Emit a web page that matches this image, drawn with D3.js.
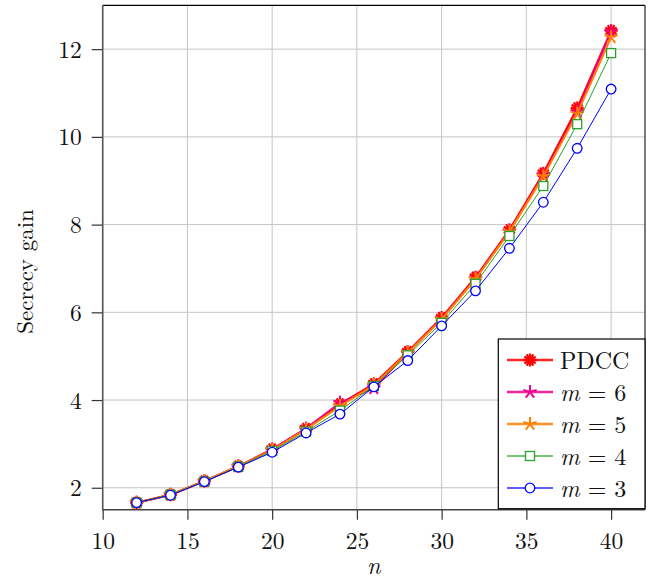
<!DOCTYPE html>
<html>
<head>
<meta charset="utf-8">
<script src="https://cdn.jsdelivr.net/npm/d3@7"></script>
<style>
  body { margin: 0; background: #fff; }
  svg text { font-family: "Latin Modern Roman", "Liberation Serif", "DejaVu Serif", serif; fill: #111; }
</style>
</head>
<body>
<svg id="chart" width="660" height="581"></svg>
<script>
// data
const nValues = [12, 14, 16, 18, 20, 22, 24, 26, 28, 30, 32, 34, 36, 38, 40];
const pdcc = [1.66, 1.84, 2.15, 2.49, 2.88, 3.35, 3.91, 4.37, 5.10, 5.88, 6.80, 7.88, 9.17, 10.66, 12.42];
const m6   = [1.66, 1.84, 2.15, 2.49, 2.87, 3.35, 3.94, 4.27, 5.08, 5.85, 6.77, 7.85, 9.12, 10.57, 12.40];
const m5   = [1.66, 1.84, 2.15, 2.49, 2.86, 3.33, 3.86, 4.34, 5.08, 5.84, 6.76, 7.84, 9.10, 10.53, 12.27];
const m4   = [1.66, 1.84, 2.14, 2.48, 2.84, 3.28, 3.76, 4.32, 5.02, 5.76, 6.65, 7.74, 8.88, 10.29, 11.91];
const m3   = [1.66, 1.83, 2.14, 2.47, 2.81, 3.25, 3.68, 4.30, 4.90, 5.69, 6.49, 7.46, 8.51, 9.74, 11.09];
const xTicks = [10, 15, 20, 25, 30, 35, 40];
const yTicks = [2, 4, 6, 8, 10, 12];
const legendLabels = ["PDCC", "6", "5", "4", "3"];

const series = [
  { name: "PDCC", values: pdcc, color: "#ff0000", width: 2, marker: "asterisk" },
  { name: "m6",   values: m6,   color: "#f0008c", width: 2, marker: "star" },
  { name: "m5",   values: m5,   color: "#ff8000", width: 2, marker: "star" },
  { name: "m4",   values: m4,   color: "#2ca02c", width: 1, marker: "square" },
  { name: "m3",   values: m3,   color: "#0000ff", width: 1, marker: "circle" }
];

const svg = d3.select("#chart");
const plotLeft = 102.7, plotRight = 645, plotTop = 5.3, plotBottom = 509.7;

const x = d3.scaleLinear().domain([10, 42]).range([plotLeft, plotRight]);
const y = d3.scaleLinear().domain([1.5, 13]).range([plotBottom, plotTop]);

// grid
svg.append("g").selectAll("line").data(xTicks).join("line")
  .attr("x1", d => x(d)).attr("x2", d => x(d))
  .attr("y1", plotTop).attr("y2", plotBottom)
  .attr("stroke", "#c4c4c4").attr("stroke-width", 1);
svg.append("g").selectAll("line").data(yTicks).join("line")
  .attr("x1", plotLeft).attr("x2", plotRight)
  .attr("y1", d => y(d)).attr("y2", d => y(d))
  .attr("stroke", "#c4c4c4").attr("stroke-width", 1);

// axes, ticks outside
const xAxis = svg.append("g")
  .attr("transform", `translate(0,${plotBottom})`)
  .call(d3.axisBottom(x).tickValues(xTicks).tickSize(10).tickPadding(13).tickSizeOuter(0));
const yAxis = svg.append("g")
  .attr("transform", `translate(${plotLeft},0)`)
  .call(d3.axisLeft(y).tickValues(yTicks).tickSize(11).tickPadding(10).tickSizeOuter(0));
[xAxis, yAxis].forEach(a => {
  a.select(".domain").remove();
  a.selectAll("line").attr("stroke", "#333").attr("stroke-width", 1.2);
  a.selectAll("text").attr("font-size", 23.5).attr("fill", "#111")
    .attr("font-family", "'Latin Modern Roman','Liberation Serif',serif");
});
yAxis.selectAll("text").attr("dy", "0.34em");

// frame
svg.append("line").attr("x1", plotLeft).attr("x2", plotRight).attr("y1", plotTop).attr("y2", plotTop)
  .attr("stroke", "#000").attr("stroke-width", 1.2);
svg.append("line").attr("x1", plotRight).attr("x2", plotRight).attr("y1", plotTop).attr("y2", plotBottom)
  .attr("stroke", "#222").attr("stroke-width", 1.2);
svg.append("line").attr("x1", plotLeft).attr("x2", plotLeft).attr("y1", plotTop).attr("y2", plotBottom + 0.6)
  .attr("stroke", "#555").attr("stroke-width", 1.6);
svg.append("line").attr("x1", plotLeft).attr("x2", plotRight).attr("y1", plotBottom).attr("y2", plotBottom)
  .attr("stroke", "#444").attr("stroke-width", 1.6);

// axis labels
svg.append("text").attr("x", x(26)).attr("y", 574)
  .attr("text-anchor", "middle").attr("font-size", 24).attr("font-style", "italic").text("n");
svg.append("text")
  .attr("transform", `translate(33,${(plotTop + plotBottom) / 2 + 14}) rotate(-90)`)
  .attr("text-anchor", "middle").attr("font-size", 23).text("Secrecy gain");

function drawMarker(g, type, color, cx, cy) {
  if (type === "asterisk") {
    const r = 6.5;
    for (let k = 0; k < 6; k++) {
      const a = k * Math.PI / 6 + Math.PI / 2;
      g.append("line")
        .attr("x1", cx - r * Math.cos(a)).attr("y1", cy - r * Math.sin(a))
        .attr("x2", cx + r * Math.cos(a)).attr("y2", cy + r * Math.sin(a))
        .attr("stroke", color).attr("stroke-width", 2.2);
    }
    g.append("circle").attr("cx", cx).attr("cy", cy).attr("r", 3.5).attr("fill", color);
  } else if (type === "star") {
    const r = 7;
    for (let k = 0; k < 5; k++) {
      const a = -Math.PI / 2 + k * 2 * Math.PI / 5;
      g.append("line")
        .attr("x1", cx).attr("y1", cy)
        .attr("x2", cx + r * Math.cos(a)).attr("y2", cy + r * Math.sin(a))
        .attr("stroke", color).attr("stroke-width", 2);
    }
  } else if (type === "square") {
    g.append("rect").attr("x", cx - 4.5).attr("y", cy - 4.5).attr("width", 9).attr("height", 9)
      .attr("fill", "#fff").attr("stroke", color).attr("stroke-width", 1.3);
  } else {
    g.append("circle").attr("cx", cx).attr("cy", cy).attr("r", 4.8)
      .attr("fill", "#fff").attr("stroke", color).attr("stroke-width", 1.3);
  }
}

const line = d3.line().x(d => x(d[0])).y(d => y(d[1]));

series.forEach(s => {
  const pts = nValues.map((n, i) => [n, s.values[i]]);
  const g = svg.append("g");
  g.append("path").datum(pts).attr("d", line)
    .attr("fill", "none").attr("stroke", s.color).attr("stroke-width", s.width)
    .attr("stroke-linejoin", "round");
  pts.forEach(p => drawMarker(g, s.marker, s.color, x(p[0]), y(p[1])));
});

// legend
const legend = svg.append("g");
legend.append("rect").attr("x", 498.3).attr("y", 339).attr("width", 146.7).attr("height", 169.7)
  .attr("fill", "#fff").attr("stroke", "#000").attr("stroke-width", 1.2);
series.forEach((s, i) => {
  const ly = 360 + i * 32;
  legend.append("line").attr("x1", 507).attr("x2", 553).attr("y1", ly).attr("y2", ly)
    .attr("stroke", s.color).attr("stroke-width", s.width + 0.6).attr("stroke-opacity", 0.85);
  drawMarker(legend, s.marker, s.color, 530, ly);
  const t = legend.append("text").attr("x", 560).attr("y", ly + 8.5).attr("font-size", 24);
  if (i === 0) {
    t.text(legendLabels[i]);
  } else {
    t.append("tspan").attr("font-style", "italic").text("m");
    t.append("tspan").text(" = " + legendLabels[i]);
  }
});
</script>
</body>
</html>
